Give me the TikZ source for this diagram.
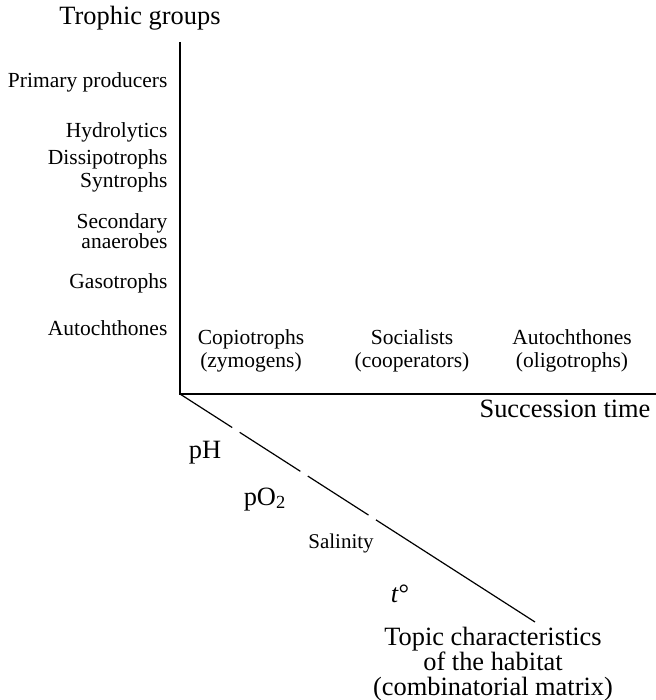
\documentclass[tikz,border=0pt]{standalone}
\usepackage{fontspec}
\setmainfont{Liberation Serif}
\usetikzlibrary{calc}

\begin{document}
\begin{tikzpicture}[x=0.5pt,y=-0.5pt,semithick,
  group/.style={anchor=base east,inner sep=0pt,font=\fontsize{10.75}{10}\selectfont},
  stage/.style={align=center,inner sep=0pt,font=\fontsize{10.75}{11.5}\selectfont},
  axis/.style={anchor=base,inner sep=0pt,font=\fontsize{13.2}{12.5}\selectfont},
  factor/.style={anchor=base,inner sep=0pt,font=\fontsize{13.2}{13}\selectfont}]
      \useasboundingbox (0,0) rectangle (656,700);

      \coordinate (top) at (180,42);
      \coordinate (o) at (180,394);
      \coordinate (right) at (656,394);
      \coordinate (end) at (535,622);

      \draw (top) -- (o) -- (right);
      \draw (o) -- ($(o)!0.147!(end)$);
      \draw ($(o)!0.168!(end)$) -- ($(o)!0.339!(end)$);
      \draw ($(o)!0.360!(end)$) -- ($(o)!0.531!(end)$);
      \draw ($(o)!0.552!(end)$) -- (end);

      \node [axis] (trophic) at (140,25) {Trophic groups};
      \node [axis] (time) at (565,417) {Succession time};

      \node [group] (prod) at (168,88) {Primary producers};
      \node [group] (hydro) at (168,138) {Hydrolytics};
      \node [group] (dissi) at (168,165) {Dissipotrophs};
      \node [group] (syn) at (168,188) {Syntrophs};
      \node [group,anchor=east,align=right] (sec) at (168,231) {Secondary\\anaerobes};
      \node [group] (gaso) at (168,288) {Gasotrophs};
      \node [group] (auto) at (168,335) {Autochthones};

      \node [stage] (copio) at (251,351) {Copiotrophs\\(zymogens)};
      \node [stage] (social) at (412,351) {Socialists\\(cooperators)};
      \node [stage] (oligo) at (572,351) {Autochthones\\(oligotrophs)};

      \node [factor] (ph) at (205,458) {pH};
      \node [factor] (po) at (265,505) {pO\textsubscript{2}};
      \node [factor,font=\fontsize{10.5}{10}\selectfont] (sal) at (341,548) {Salinity};
      \node [factor] (temp) at (400,602) {\textit{t}°};
      \node [axis,anchor=north,align=center] (topic) at (493,627) {Topic characteristics\\of the habitat\\(combinatorial matrix)};

\end{tikzpicture}
\end{document}
